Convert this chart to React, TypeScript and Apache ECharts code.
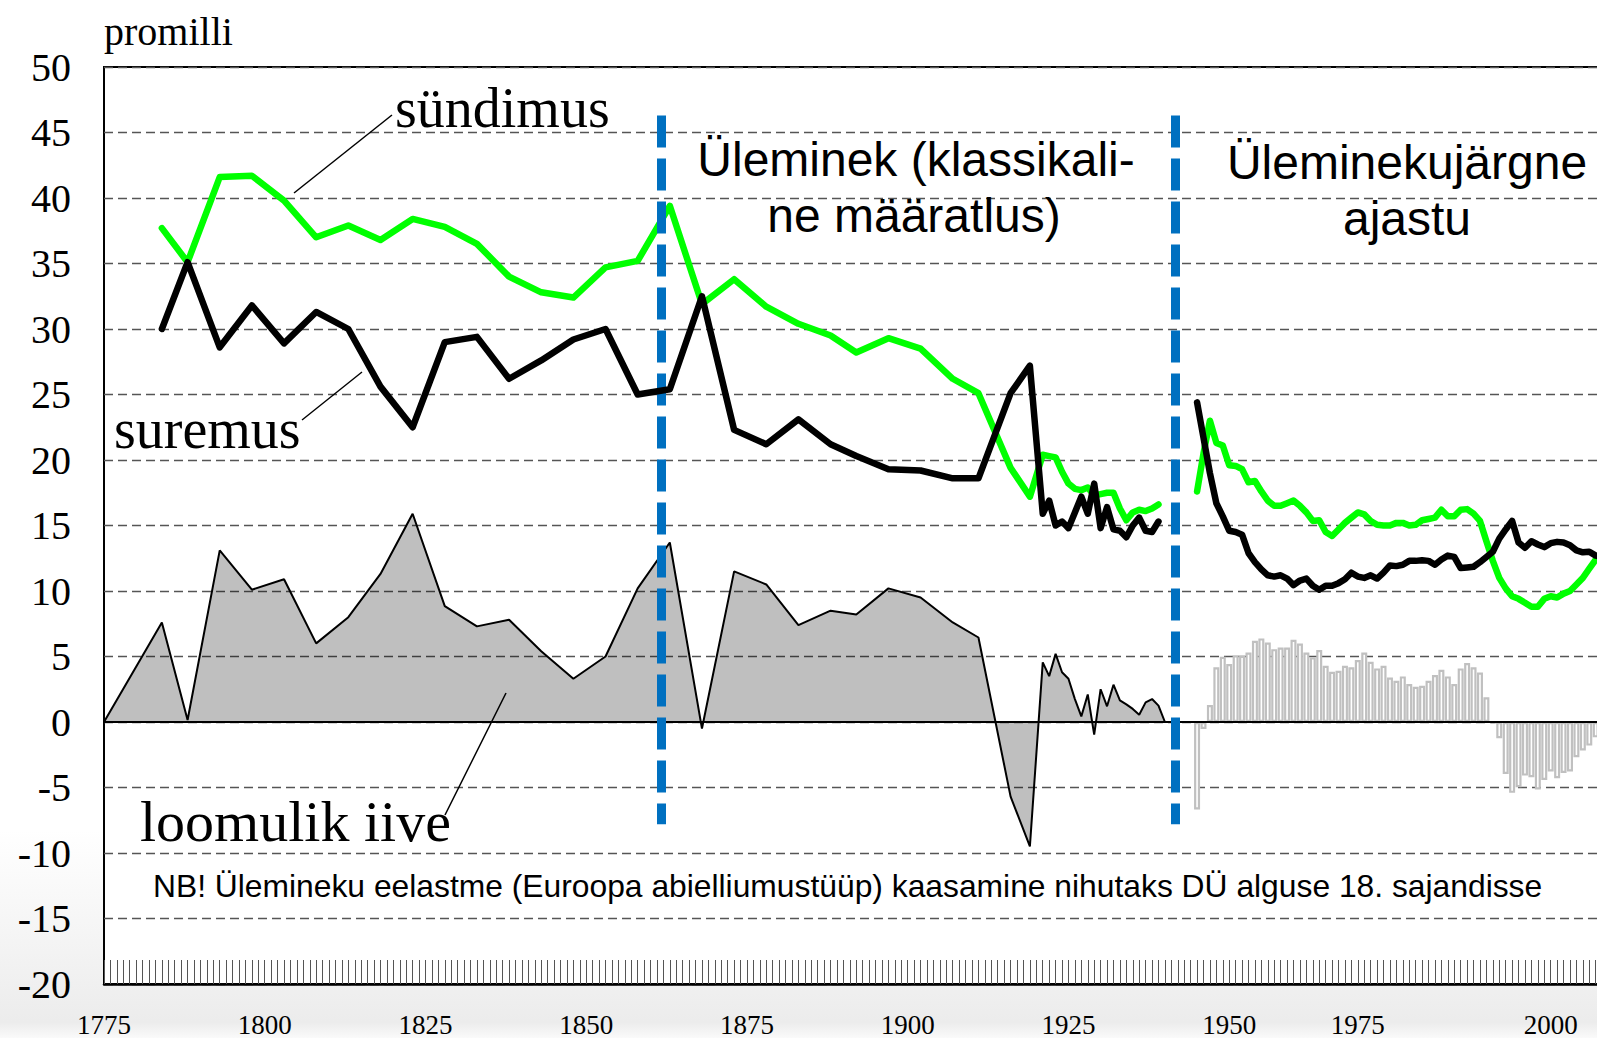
import React, { useEffect, useRef } from "react";
import * as echarts from "echarts";

// ---- data ----
// pre-1940 period (irregular years)
const preYears = [1784, 1788, 1793, 1798, 1803, 1808, 1813, 1818, 1823, 1828, 1833, 1838, 1843, 1848, 1853, 1858, 1863, 1868, 1873, 1878, 1883, 1888, 1892, 1897, 1902, 1907, 1911, 1916, 1919, 1921, 1922, 1923, 1924, 1925, 1926, 1927, 1928, 1929, 1930, 1931, 1932, 1933, 1934, 1935, 1936, 1937, 1938, 1939];
const birthPre = [37.7, 35.1, 41.6, 41.7, 39.8, 37.0, 37.9, 36.8, 38.4, 37.8, 36.5, 34.0, 32.8, 32.4, 34.7, 35.2, 39.4, 31.9, 33.8, 31.7, 30.4, 29.5, 28.2, 29.3, 28.5, 26.2, 25.1, 19.4, 17.2, 20.4, 20.3, 20.2, 19.1, 18.2, 17.8, 17.7, 17.9, 17.3, 17.4, 17.5, 17.5, 16.3, 15.4, 16.0, 16.2, 16.1, 16.3, 16.6];
const deathPre = [30.0, 35.1, 28.6, 31.8, 28.9, 31.3, 30.0, 25.6, 22.5, 29.0, 29.4, 26.2, 27.6, 29.2, 30.0, 25.0, 25.4, 32.5, 22.3, 21.2, 23.1, 21.2, 20.3, 19.3, 19.2, 18.6, 18.6, 25.1, 27.2, 15.9, 16.9, 15.0, 15.3, 14.8, 16.0, 17.2, 15.9, 18.2, 14.8, 16.4, 14.7, 14.6, 14.1, 15.0, 15.6, 14.6, 14.5, 15.3];
const incYearsPre = [1775, 1784, 1788, 1793, 1798, 1803, 1808, 1813, 1818, 1823, 1828, 1833, 1838, 1843, 1848, 1853, 1858, 1863, 1868, 1873, 1878, 1883, 1888, 1892, 1897, 1902, 1907, 1911, 1916, 1919, 1921, 1922, 1923, 1924, 1925, 1926, 1927, 1928, 1929, 1930, 1931, 1932, 1933, 1934, 1935, 1936, 1937, 1938, 1939, 1940];
const incPre = [0, 7.6, 0.15, 13.1, 10.1, 10.9, 6.0, 8.0, 11.3, 15.9, 8.85, 7.3, 7.8, 5.4, 3.3, 5.0, 10.2, 13.7, -0.5, 11.5, 10.5, 7.4, 8.5, 8.2, 10.2, 9.5, 7.6, 6.45, -5.7, -9.5, 4.55, 3.5, 5.2, 3.8, 3.3, 1.75, 0.43, 2.1, -0.97, 2.5, 1.2, 2.85, 1.65, 1.35, 1.0, 0.55, 1.5, 1.75, 1.25, 0];

// post-1945 period (annual, starting 1945)
const postStart = 1945;
const birthPost = [17.6, 20.5, 23.0, 21.3, 21.1, 19.6, 19.55, 19.3, 18.3, 18.4, 17.6, 16.9, 16.5, 16.5, 16.7, 16.9, 16.5, 16.0, 15.35, 15.4, 14.5, 14.2, 14.7, 15.2, 15.6, 16.0, 15.85, 15.35, 15.05, 15.0, 15.0, 15.2, 15.2, 15.0, 15.05, 15.4, 15.5, 15.6, 16.2, 15.7, 15.7, 16.2, 16.25, 15.9, 15.35, 13.8, 12.3, 11.0, 10.2, 9.6, 9.4, 9.1, 8.8, 8.8, 9.4, 9.6, 9.5, 9.8, 10.0, 10.5, 11.0, 11.7, 12.4, 12.9];
const deathPost = [24.4, 21.7, 19.0, 16.7, 15.7, 14.6, 14.5, 14.3, 12.9, 12.2, 11.65, 11.2, 11.1, 11.2, 10.95, 10.45, 10.8, 10.95, 10.4, 10.1, 10.4, 10.4, 10.6, 10.9, 11.4, 11.1, 11.0, 11.2, 10.95, 11.4, 11.95, 11.9, 12.0, 12.3, 12.3, 12.35, 12.3, 12.0, 12.4, 12.7, 12.6, 11.75, 11.8, 11.85, 12.2, 12.6, 13.0, 14.0, 14.7, 15.35, 13.7, 13.3, 13.8, 13.55, 13.35, 13.65, 13.75, 13.7, 13.5, 13.1, 12.95, 13.0, 12.7, 12.6];
const incPost = [-6.68, -0.53, 1.3, 4.17, 4.98, 4.42, 5.1, 5.05, 5.3, 6.2, 6.38, 6.07, 5.56, 5.69, 5.69, 6.27, 5.99, 5.3, 4.93, 5.5, 4.29, 3.83, 3.91, 4.29, 4.17, 4.73, 5.3, 4.6, 4.09, 4.29, 3.4, 3.15, 3.48, 2.9, 2.69, 2.77, 3.15, 3.58, 3.99, 3.48, 2.9, 4.09, 4.5, 4.17, 3.78, 1.88, -0.15, -1.24, -3.96, -5.41, -4.98, -4.09, -4.22, -5.15, -4.42, -3.78, -4.29, -3.89, -3.78, -2.69, -2.18, -1.8, -1.17, -0.5];

// period boundaries (vertical dashed lines)
const boundaryYears = [1861.6, 1941.6];
const boundaryTop = 46.3;
const boundaryBottom = -7.8;

// x tick labels (as placed in the reference)
const xLabelYears = [1775, 1800, 1825, 1850, 1875, 1900, 1925, 1950, 1970, 2000];
const xLabelTexts = ["1775", "1800", "1825", "1850", "1875", "1900", "1925", "1950", "1975", "2000"];

const SERIF = "Liberation Serif";
const SANS = "Liberation Sans";

const pairs = (xs: number[], ys: number[]) => xs.map((x, i) => [x, ys[i]]);
const postPairs = (ys: number[]) => ys.map((v, i) => [postStart + i, v]);

export default function App() {
  const ref = useRef<HTMLDivElement>(null);

  useEffect(() => {
    if (!ref.current) return;
    const chart = echarts.init(ref.current, undefined, { renderer: "svg" });

    const labelMap: Record<number, string> = {};
    xLabelYears.forEach((y, i) => (labelMap[y] = xLabelTexts[i]));

    const greenLine = { color: "#00ff00", width: 6.5, cap: "round", join: "round" };
    const blackLine = { color: "#000000", width: 6.5, cap: "round", join: "round" };

    const option: any = {
      animation: false,
      backgroundColor: new echarts.graphic.LinearGradient(0, 0, 0, 1, [
        { offset: 0, color: "#ffffff" },
        { offset: 0.8, color: "#ffffff" },
        { offset: 0.985, color: "#ececec" },
        { offset: 1, color: "#fafafa" },
      ]),
      grid: {
        left: 104,
        top: 67,
        right: 25,
        bottom: 52.6,
        show: true,
        backgroundColor: "#ffffff",
        borderColor: "#000000",
        borderWidth: 2,
      },
      xAxis: {
        type: "value",
        min: 1775,
        max: 2010,
        interval: 1,
        axisLine: { show: true, onZero: false, lineStyle: { color: "#000", width: 2.5 } },
        axisTick: { show: true, inside: true, length: 24, lineStyle: { color: "#555", width: 1 } },
        splitLine: { show: false },
        axisLabel: {
          formatter: (v: number) => labelMap[Math.round(v)] ?? "",
          fontFamily: SERIF,
          fontSize: 27,
          lineHeight: 27,
          color: "#000",
          margin: 27,
        },
      },
      yAxis: {
        type: "value",
        min: -20,
        max: 50,
        interval: 5,
        axisLine: { show: false },
        axisTick: { show: false },
        splitLine: { show: true, lineStyle: { color: "#555", type: [9, 5], width: 1.3 } },
        axisLabel: { fontFamily: SERIF, fontSize: 40, color: "#000", margin: 33 },
      },
      series: [
        {
          name: "loomulik iive",
          type: "line",
          data: pairs(incYearsPre, incPre),
          symbol: "none",
          z: 2,
          lineStyle: { color: "#000", width: 2 },
          areaStyle: { color: "rgba(0,0,0,0.25)", opacity: 1 },
        },
        {
          name: "loomulik iive (1945-)",
          type: "bar",
          data: postPairs(incPost),
          barWidth: 6,
          z: 3,
          itemStyle: { color: "#ffffff", borderColor: "#c0c0c0", borderWidth: 2.2 },
          markLine: {
            silent: true,
            symbol: ["none", "none"],
            label: { show: false },
            lineStyle: { color: "#000", width: 2, type: "solid" },
            data: [{ yAxis: 0 }],
          },
        },
        { name: "sündimus", type: "line", data: pairs(preYears, birthPre), symbol: "none", z: 4, lineStyle: greenLine },
        { name: "sündimus (1945-)", type: "line", data: postPairs(birthPost), symbol: "none", z: 4, lineStyle: greenLine },
        { name: "suremus", type: "line", data: pairs(preYears, deathPre), symbol: "none", z: 5, lineStyle: blackLine },
        { name: "suremus (1945-)", type: "line", data: postPairs(deathPost), symbol: "none", z: 5, lineStyle: blackLine },
        {
          name: "piirid",
          type: "line",
          data: [],
          z: 6,
          markLine: {
            silent: true,
            symbol: ["none", "none"],
            label: { show: false },
            lineStyle: { color: "#0070c0", width: 9, type: [32, 11] },
            data: boundaryYears.map((y) => [{ coord: [y, boundaryTop] }, { coord: [y, boundaryBottom] }]),
          },
        },
      ],
      graphic: [
        { type: "text", z: 100, x: 104, y: 31, style: { text: "promilli", fontFamily: SERIF, fontSize: 40, fill: "#000", align: "left", verticalAlign: "middle" } },
        { type: "text", z: 100, x: 395, y: 108, style: { text: "sündimus", fontFamily: SERIF, fontSize: 56, fill: "#000", align: "left", verticalAlign: "middle" } },
        { type: "text", z: 100, x: 114, y: 429, style: { text: "suremus", fontFamily: SERIF, fontSize: 56, fill: "#000", align: "left", verticalAlign: "middle" } },
        { type: "text", z: 100, x: 140, y: 821, style: { text: "loomulik iive", fontFamily: SERIF, fontSize: 58, fill: "#000", align: "left", verticalAlign: "middle" } },
        { type: "line", z: 100, shape: { x1: 392, y1: 115, x2: 294, y2: 193 }, style: { stroke: "#000", lineWidth: 1.5 } },
        { type: "line", z: 100, shape: { x1: 302, y1: 420, x2: 362, y2: 372 }, style: { stroke: "#000", lineWidth: 1.5 } },
        { type: "line", z: 100, shape: { x1: 445, y1: 815, x2: 506, y2: 693 }, style: { stroke: "#000", lineWidth: 1.5 } },
        { type: "text", z: 100, x: 916, y: 159, style: { text: "Üleminek (klassikali-", fontFamily: SANS, fontSize: 48, fill: "#000", align: "center", verticalAlign: "middle" } },
        { type: "text", z: 100, x: 914, y: 215, style: { text: "ne määratlus)", fontFamily: SANS, fontSize: 48, fill: "#000", align: "center", verticalAlign: "middle" } },
        { type: "text", z: 100, x: 1407, y: 162, style: { text: "Üleminekujärgne", fontFamily: SANS, fontSize: 48, fill: "#000", align: "center", verticalAlign: "middle" } },
        { type: "text", z: 100, x: 1407, y: 218, style: { text: "ajastu", fontFamily: SANS, fontSize: 48, fill: "#000", align: "center", verticalAlign: "middle" } },
        { type: "text", z: 100, x: 153, y: 886, style: { text: "NB! Ülemineku eelastme (Euroopa abielliumustüüp) kaasamine nihutaks DÜ alguse 18. sajandisse", fontFamily: SANS, fontSize: 31.8, fill: "#000", align: "left", verticalAlign: "middle" } },
      ],
    };

    chart.setOption(option);
    return () => chart.dispose();
  }, []);

  return (
    <div style={{ position: "fixed", left: 0, top: 0, width: 1597, height: 1038, overflow: "hidden", background: "#fff" }}>
      <div ref={ref} style={{ width: 1640, height: 1038 }} />
    </div>
  );
}
